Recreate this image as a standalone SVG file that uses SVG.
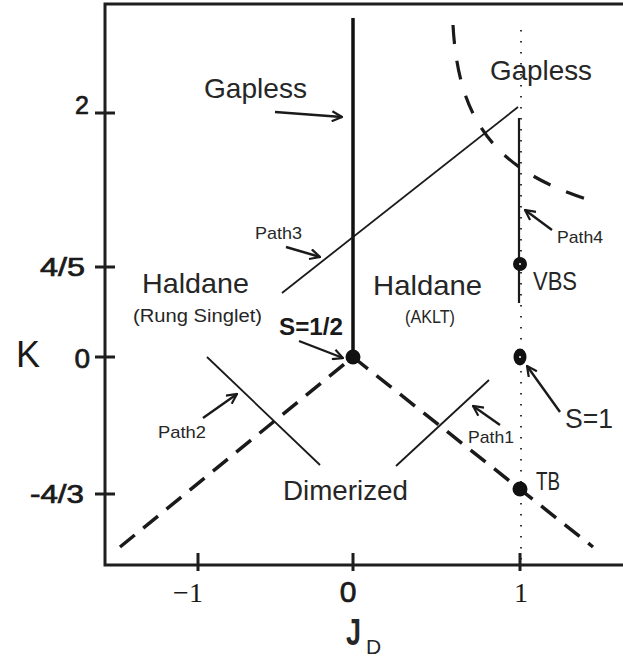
<svg xmlns="http://www.w3.org/2000/svg" width="623" height="662" viewBox="0 0 623 662">
<defs>
<style>
.t{font-family:"Liberation Sans",Arial,sans-serif;fill:#262626}
.reg{font-size:28px}
.sub{font-size:18px}
.pth{font-size:17px}
.ax{font-size:25px;fill:#1a1a1a;stroke:#1a1a1a;stroke-width:0.7}
.srf{font-family:"Liberation Serif","Times New Roman",serif;font-size:28px;fill:#1a1a1a}
.frame{fill:none;stroke:#1e1e1e;stroke-width:3}
.thin{fill:none;stroke:#1a1a1a;stroke-width:1.8}
.dash{fill:none;stroke:#1a1a1a;stroke-width:3.5;stroke-dasharray:19 11}
.arr{fill:none;stroke:#1a1a1a;stroke-width:2.4;marker-end:url(#ah)}
.dot{fill:#111}
</style>
<marker id="ah" viewBox="0 0 12 12" refX="11" refY="6" markerWidth="12" markerHeight="12" markerUnits="userSpaceOnUse" orient="auto">
<path d="M1,1 L11,6 L1,11" fill="none" stroke="#1a1a1a" stroke-width="2.2"/>
</marker>
</defs>
<rect width="623" height="662" fill="#fff"/>

<g id="axes">
<path class="frame" d="M623,4 H105 V565 H623"/>
<path class="frame" d="M95,113 H115 M95,267 H115 M95,357 H115 M95,494 H115 M198,553 V571 M353,553 V571 M520,553 V571"/>
<text class="t ax" x="89" y="114" text-anchor="end">2</text>
<text class="t ax" x="85" y="276" text-anchor="end" textLength="45" lengthAdjust="spacingAndGlyphs">4/5</text>
<text class="t ax" x="90" y="368" text-anchor="end" style="font-size:28px">0</text>
<text class="t ax" x="84" y="503" text-anchor="end" textLength="54" lengthAdjust="spacingAndGlyphs">-4/3</text>
<text class="t" x="16" y="367" style="font-size:36px;fill:#1a1a1a">K</text>
<text class="srf" x="188" y="602" text-anchor="middle">−1</text>
<text class="t ax" x="348" y="602" text-anchor="middle" style="font-size:30px">0</text>
<text class="srf" x="521" y="602" text-anchor="middle">1</text>
<text class="t" x="346" y="645" style="font-size:36px;font-weight:bold" textLength="15" lengthAdjust="spacingAndGlyphs">J</text>
<text class="t" x="366" y="654" style="font-size:21px">D</text>
</g>

<g id="boundaries">
<line x1="353" y1="18" x2="353" y2="357" stroke="#111" stroke-width="3.5"/>
<path class="dash" d="M120,547 L353,357"/>
<path class="dash" d="M353,357 L593,547"/>
<path class="dash" d="M453,25 C458,115 490,170 593,201" style="stroke-width:3.2;stroke-dasharray:19 17"/>
<line x1="521" y1="30" x2="521" y2="565" stroke="#222" stroke-width="1.8" stroke-dasharray="1.6 9.4"/>
</g>

<g id="paths">
<line id="path1-line" class="thin" x1="396" y1="466" x2="489" y2="380"/>
<line id="path2-line" class="thin" x1="207" y1="357" x2="320" y2="465"/>
<line id="path3-line" class="thin" x1="282" y1="293" x2="518" y2="107"/>
<line id="path4-line" x1="519" y1="118" x2="519" y2="303" stroke="#1a1a1a" stroke-width="2.2"/>
</g>

<g id="points">
<g id="pt-half"><circle class="dot" cx="353" cy="357" r="7.5"/></g>
<g id="pt-vbs"><circle class="dot" cx="520" cy="264" r="7"/><circle cx="520" cy="264" r="1" fill="#fff"/></g>
<g id="pt-s1"><ellipse class="dot" cx="520" cy="357" rx="6.5" ry="8.5"/><circle cx="520" cy="357" r="1" fill="#fff"/></g>
<g id="pt-tb"><circle class="dot" cx="520" cy="489" r="7.5"/></g>
</g>

<g id="connectors">
<line class="arr" x1="275" y1="112" x2="342" y2="117"/>
<line class="arr" x1="286" y1="247" x2="320" y2="257"/>
<line class="arr" x1="299" y1="341" x2="343" y2="358"/>
<line class="arr" x1="203" y1="418" x2="237" y2="394"/>
<line class="arr" x1="500" y1="425" x2="473" y2="406"/>
<line class="arr" x1="560" y1="412" x2="527" y2="366"/>
<line class="arr" x1="552" y1="230" x2="525" y2="210"/>
</g>

<g id="labels">
<text id="lbl-gapless-l" class="t reg" x="204" y="98" textLength="103" lengthAdjust="spacingAndGlyphs">Gapless</text>
<text id="lbl-gapless-r" class="t reg" x="490" y="80" textLength="102" lengthAdjust="spacingAndGlyphs">Gapless</text>
<g id="lbl-haldane-rs">
<text class="t reg" x="142" y="293" textLength="107" lengthAdjust="spacingAndGlyphs">Haldane</text>
<text class="t sub" x="133" y="322" textLength="129" lengthAdjust="spacingAndGlyphs">(Rung Singlet)</text>
</g>
<g id="lbl-haldane-aklt">
<text class="t reg" x="373" y="295" textLength="109" lengthAdjust="spacingAndGlyphs">Haldane</text>
<text class="t sub" x="405" y="323" textLength="50" lengthAdjust="spacingAndGlyphs">(AKLT)</text>
</g>
<text id="lbl-dimerized" class="t reg" x="283" y="500" textLength="125" lengthAdjust="spacingAndGlyphs">Dimerized</text>
<text id="lbl-vbs" class="t" x="533" y="290" style="font-size:25px" textLength="44" lengthAdjust="spacingAndGlyphs">VBS</text>
<text id="lbl-tb" class="t" x="536" y="490" style="font-size:25px" textLength="24" lengthAdjust="spacingAndGlyphs">TB</text>
<text id="lbl-s1" class="t" x="565" y="428" style="font-size:28px" textLength="48" lengthAdjust="spacingAndGlyphs">S=1</text>
<text id="lbl-shalf" class="t" x="279" y="335" style="font-size:23px;font-weight:bold;fill:#1a1a1a" textLength="64" lengthAdjust="spacingAndGlyphs">S=1/2</text>
<text id="lbl-path1" class="t pth" x="468" y="443" textLength="46" lengthAdjust="spacingAndGlyphs">Path1</text>
<text id="lbl-path2" class="t pth" x="158" y="438" textLength="48" lengthAdjust="spacingAndGlyphs">Path2</text>
<text id="lbl-path3" class="t pth" x="255" y="239" textLength="47" lengthAdjust="spacingAndGlyphs">Path3</text>
<text id="lbl-path4" class="t pth" x="557" y="243" textLength="46" lengthAdjust="spacingAndGlyphs">Path4</text>
</g>
</svg>
